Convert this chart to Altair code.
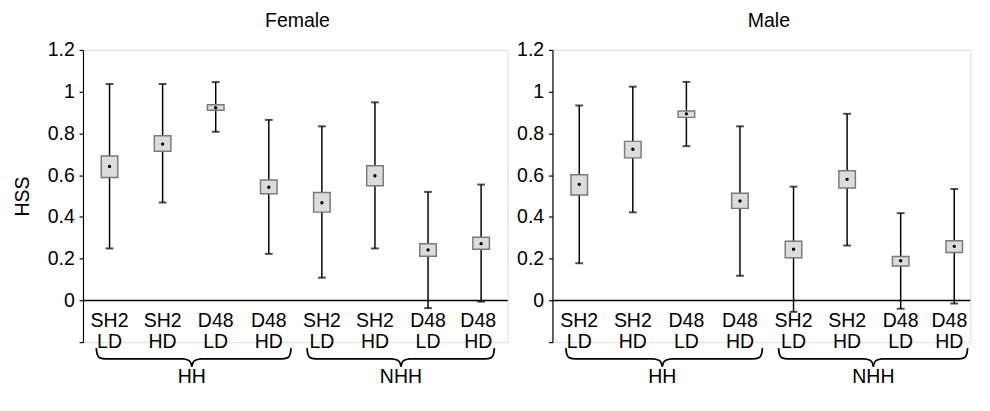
import altair as alt
import pandas as pd

FONT = "Liberation Sans"

panel_titles = ["Female", "Male"]
groups = ["HH", "HH", "HH", "HH", "NHH", "NHH", "NHH", "NHH"]
tests = ["SH2 LD", "SH2 HD", "D48 LD", "D48 HD", "SH2 LD", "SH2 HD", "D48 LD", "D48 HD"]

female_mid = [0.642, 0.749, 0.923, 0.542, 0.468, 0.597, 0.242, 0.272]
female_box_lo = [0.589, 0.715, 0.911, 0.511, 0.423, 0.549, 0.212, 0.245]
female_box_hi = [0.692, 0.789, 0.937, 0.577, 0.517, 0.645, 0.271, 0.303]
female_whisker_lo = [0.249, 0.469, 0.808, 0.223, 0.109, 0.249, -0.037, -0.006]
female_whisker_hi = [1.037, 1.037, 1.046, 0.865, 0.834, 0.949, 0.520, 0.555]

male_mid = [0.556, 0.724, 0.894, 0.476, 0.245, 0.580, 0.190, 0.259]
male_box_lo = [0.505, 0.683, 0.877, 0.441, 0.204, 0.539, 0.165, 0.230]
male_box_hi = [0.602, 0.762, 0.908, 0.513, 0.283, 0.621, 0.210, 0.286]
male_whisker_lo = [0.178, 0.422, 0.739, 0.118, -0.055, 0.263, -0.040, -0.015]
male_whisker_hi = [0.934, 1.024, 1.047, 0.834, 0.545, 0.894, 0.418, 0.534]

y_ticks = [-0.2, 0, 0.2, 0.4, 0.6, 0.8, 1, 1.2]
group_names = ["HH", "NHH"]
# brace extents in band units (0 = left edge of the first category)
brace_left = [0.25, 4.22]
brace_tip = [2.05, 5.99]
brace_right = [3.92, 7.75]

cats = [f"{g} {t}" for g, t in zip(groups, tests)]

# brace outline: horizontal fractions of each half (0 = outer end, 1 = tip)
# and depths below the plot in HSS units
brace_frac = [0.0, 0.009, 0.033, 0.098, 0.90, 0.965, 0.99, 1.0]
brace_v = [-0.229, -0.257, -0.274, -0.280, -0.280, -0.287, -0.300, -0.317]
GROUP_LABEL_V = -0.395
TITLE_V = 1.31
TITLE_U = 4.04

HEIGHT = 300


def brace_frame():
    rows = []
    for g, l, t, r in zip(group_names, brace_left, brace_tip, brace_right):
        for k, (f, v) in enumerate(zip(brace_frac, brace_v)):
            rows.append({"seg": g + "L", "k": k, "u": l + f * (t - l), "v": v})
            rows.append({"seg": g + "R", "k": k, "u": r - f * (r - t), "v": v})
    return pd.DataFrame(rows)


def panel(title, mid, blo, bhi, wlo, whi, width, xrange, last_shift, ytitle):
    df = pd.DataFrame({"cat": cats, "mid": mid, "blo": blo, "bhi": bhi,
                       "wlo": wlo, "whi": whi})
    yscale = alt.Scale(domain=[-0.2, 1.2], nice=False, zero=False)
    yaxis = alt.Axis(values=y_ticks, format="~g",
                     labelExpr="datum.value < -0.1 ? '' : datum.label",
                     grid=False, tickSize=4, tickColor="black", domainColor="black",
                     domainWidth=1.2, tickWidth=1.2, labelFontSize=20, labelColor="black",
                     labelPadding=5, labelFont=FONT, titleFont=FONT, titleFontSize=20,
                     titleFontWeight="normal", titleColor="black", titlePadding=15)

    def Y(field):
        if ytitle:
            return alt.Y(field, type="quantitative", scale=yscale, axis=yaxis, title=ytitle)
        return alt.Y(field, type="quantitative", scale=yscale, axis=yaxis, title=None)

    zero_gap = round(HEIGHT * 0.2 / 1.4)
    xaxis = alt.Axis(title=None, labelAngle=0, ticks=False, domain=False, grid=False,
                     labelExpr="slice(split(datum.label, ' '), 1)",
                     labelOffset={"condition": {"test": "datum.index > 0.99", "value": last_shift},
                                  "value": 0},
                     labelFontSize=20, labelLineHeight=21, labelPadding=11 - zero_gap,
                     labelColor="black", labelFont=FONT, labelOverlap=False)
    if xrange:
        xscale = alt.Scale(paddingInner=0, paddingOuter=0, range=xrange)
        uscale = alt.Scale(domain=[0, 8], nice=False, zero=False, range=xrange)
    else:
        xscale = alt.Scale(paddingInner=0, paddingOuter=0)
        uscale = alt.Scale(domain=[0, 8], nice=False, zero=False)
    base = alt.Chart(df).encode(x=alt.X("cat:N", sort=cats, scale=xscale, axis=xaxis))
    zero_line = alt.Chart(pd.DataFrame({"z": [0]})).mark_rule(
        color="black", strokeWidth=1.5).encode(
        y=Y("z"), x=alt.value(0), x2=alt.value("width"))
    whisk = base.mark_rule(color="black", strokeWidth=1.5).encode(y=Y("wlo"), y2="whi:Q")
    cap_hi = base.mark_tick(orient="horizontal", color="black", size=8, thickness=2).encode(y=Y("whi"))
    cap_lo = base.mark_tick(orient="horizontal", color="black", size=8, thickness=2).encode(y=Y("wlo"))
    box = base.mark_bar(size=17, fill="#dcdcdc", stroke="#7a7a7a", strokeWidth=1.5).encode(
        y=Y("blo"), y2="bhi:Q")
    dot = base.mark_point(filled=True, color="black", size=12, opacity=1).encode(y=Y("mid"))
    main = alt.layer(zero_line, whisk, cap_hi, cap_lo, box, dot)

    def U(field):
        return alt.X(field, type="quantitative", scale=uscale, axis=None)

    brace = alt.Chart(brace_frame()).mark_line(
        color="black", strokeWidth=1.8, interpolate="monotone").encode(
        x=U("u"), y=Y("v"), detail="seg:N", order="k:Q")
    gdf = pd.DataFrame({"g": group_names, "u": brace_tip,
                        "v": [GROUP_LABEL_V] * len(group_names)})
    glabel = alt.Chart(gdf).mark_text(fontSize=20, font=FONT, color="black",
                                      baseline="alphabetic").encode(
        x=U("u"), y=Y("v"), text="g:N")
    tdf = pd.DataFrame({"t": [title], "u": [TITLE_U], "v": [TITLE_V]})
    ttext = alt.Chart(tdf).mark_text(fontSize=20, font=FONT, color="black",
                                     baseline="alphabetic").encode(
        x=U("u"), y=Y("v"), text="t:N")
    deco = alt.layer(brace, glabel, ttext)
    return alt.layer(main, deco).resolve_scale(x="independent").properties(
        width=width, height=HEIGHT)


female = panel(panel_titles[0], female_mid, female_box_lo, female_box_hi,
               female_whisker_lo, female_whisker_hi, 436, None, -3, "HSS")
male = panel(panel_titles[1], male_mid, male_box_lo, male_box_hi,
             male_whisker_lo, male_whisker_hi, 429, [0, 440], -5, None)

chart = alt.hconcat(female, male, spacing=6).properties(
    padding={"left": 4, "top": -3, "right": 0, "bottom": -5}
).configure_view(stroke=None).configure(font=FONT)

chart.save("out.html", embed_options={"renderer": "svg", "actions": False})
